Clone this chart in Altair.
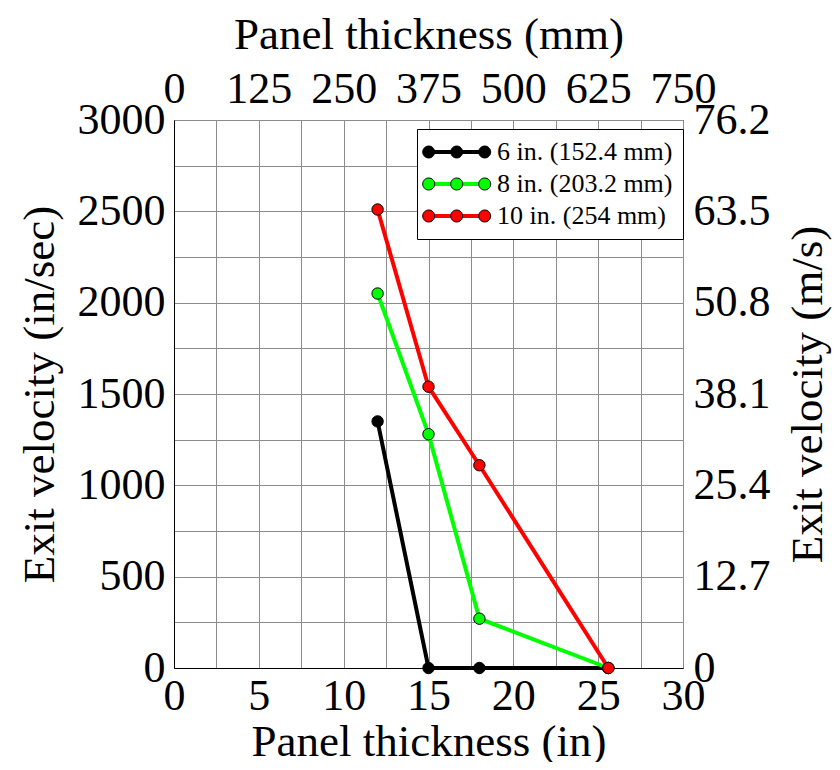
import altair as alt
import pandas as pd

# ---- data ----
thickness_in = [12, 15, 18, 25.6]
series_names = ["6 in. (152.4 mm)", "8 in. (203.2 mm)", "10 in. (254 mm)"]
v6 = [1350, 0, 0, 0]
v8 = [2050, 1280, 270, 0]
v10 = [2510, 1540, 1110, 0]
colors = ["#000000", "#00ff00", "#ff0000"]

x_grid_vals = [0, 2.5, 5, 7.5, 10, 12.5, 15, 17.5, 20, 22.5, 25, 27.5, 30]
x_label_vals = [0, 5, 10, 15, 20, 25, 30]
y_grid_vals = [0, 250, 500, 750, 1000, 1250, 1500, 1750, 2000, 2250, 2500, 2750, 3000]
y_label_vals = [0, 500, 1000, 1500, 2000, 2500, 3000]

rows = []
for name, vals in zip(series_names, [v6, v8, v10]):
    for i, (x, v) in enumerate(zip(thickness_in, vals)):
        rows.append({"series": name, "series2": name, "x": x, "v": v, "ord": i})
df = pd.DataFrame(rows)

FONT = "Liberation Serif"
LBL = 44
TTL = 45

xscale = alt.Scale(domain=[0, 30], nice=False, zero=False)
yscale = alt.Scale(domain=[0, 3000], nice=False)

# legend symbols (custom paths, unit = sqrt(size)/2 = 10 px)
line_path = "M -1.13 0 L 4.47 0"
def circ(cx, r):
    return (f"M {cx - r} 0 A {r} {r} 0 1 0 {cx + r} 0 "
            f"A {r} {r} 0 1 0 {cx - r} 0 Z ")
circles_path = circ(-1.13, 0.6) + circ(1.67, 0.6) + circ(4.47, 0.6)

legend_common = dict(
    orient="none", legendX=243, legendY=9, padding=10, title=None,
    labelFont=FONT, labelFontSize=26, labelOffset=44, rowPadding=6,
    symbolSize=400, labelLimit=400,
)

base = alt.Chart(df)

lines = base.mark_line(strokeWidth=4).encode(
    x=alt.X("x:Q", scale=xscale, axis=alt.Axis(
        orient="bottom", values=x_grid_vals, format="d",
        labelExpr="datum.value % 5 == 0 ? datum.label : ''",
        grid=True, gridColor="#8c8c8c", gridWidth=1, tickSize=0,
        domainColor="black", labelPadding=6, labelFlush=False,
        labelOverlap=False, title="Panel thickness (in)", titlePadding=1)),
    y=alt.Y("v:Q", scale=yscale, axis=alt.Axis(
        orient="left", values=y_grid_vals, format="d",
        labelExpr="datum.value % 500 == 0 ? datum.label : ''",
        grid=True, gridColor="#8c8c8c", gridWidth=1, tickSize=0,
        domainColor="black", labelPadding=9, labelFlush=False,
        labelOverlap=False, title="Exit velocity (in/sec)", titlePadding=15)),
    stroke=alt.Stroke("series:N", scale=alt.Scale(domain=series_names, range=colors),
                      legend=alt.Legend(symbolType=line_path, symbolStrokeWidth=4,
                                        fillColor="white", strokeColor="black",
                                        labelOpacity=0, zindex=1, **legend_common)),
    order="ord:Q",
)

points = base.mark_circle(size=130, stroke="black", strokeWidth=1, opacity=1).encode(
    x=alt.X("x:Q", scale=xscale, axis=alt.Axis(
        orient="top", values=x_label_vals,
        labelExpr="format(datum.value * 25, 'd')",
        grid=False, tickSize=0, domain=False, labelPadding=9, labelFlush=False,
        labelOverlap=False, title="Panel thickness (mm)", titlePadding=10)),
    y=alt.Y("v:Q", scale=yscale, axis=alt.Axis(
        orient="right", values=y_label_vals,
        labelExpr="datum.value == 0 ? '0' : format(datum.value * 0.0254, '.1f')",
        grid=False, tickSize=0, domain=False, labelPadding=10, labelFlush=False,
        labelOverlap=False, title="Exit velocity (m/s)", titleAngle=270,
        titlePadding=60)),
    fill=alt.Fill("series2:N", sort=series_names, scale=alt.Scale(range=colors),
                  legend=alt.Legend(symbolType=circles_path, symbolStrokeColor="black",
                                    symbolStrokeWidth=1, symbolOpacity=1,
                                    labelColor="black", zindex=2, **legend_common)),
)

chart = (
    alt.layer(lines, points)
    .resolve_axis(x="independent", y="independent")
    .properties(
        width=509, height=548,
        autosize=alt.AutoSizeParams(type="none"),
        padding={"left": 166, "top": 112, "right": 149, "bottom": 94},
    )
    .configure_view(stroke="black", strokeWidth=1)
    .configure_axis(labelFont=FONT, labelFontSize=LBL, labelColor="black",
                    titleFont=FONT, titleFontSize=TTL, titleFontWeight="normal",
                    titleColor="black")
    .configure_legend(labelColor="black")
)

chart.save("out.html", embed_options={"renderer": "svg", "actions": False})
